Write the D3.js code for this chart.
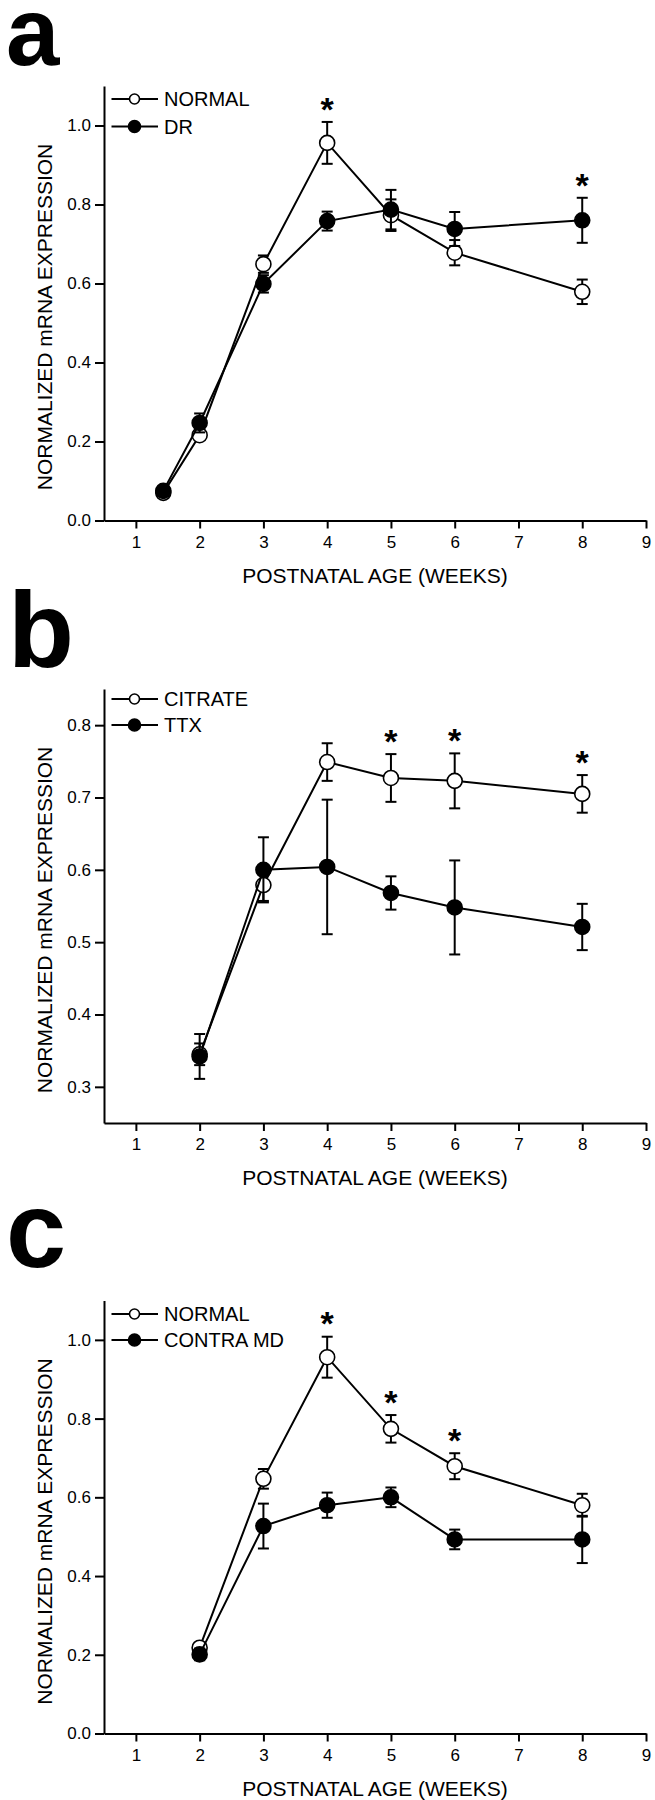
<!DOCTYPE html>
<html>
<head>
<meta charset="utf-8">
<script src="https://cdn.jsdelivr.net/npm/d3@7"></script>
<style>
  html, body { margin: 0; padding: 0; background: #fff; }
  svg { display: block; font-family: "Liberation Sans", Arial, Helvetica, sans-serif; }
</style>
</head>
<body>
<svg id="chart" width="655" height="1800"></svg>
<script>
// ---------- DATA ----------
const xTicks = [1, 2, 3, 4, 5, 6, 7, 8, 9];
const xTitle = "POSTNATAL AGE (WEEKS)";
const yTitle = "NORMALIZED mRNA EXPRESSION";

// Panel a
const weeksA = [1.43, 2, 3, 4, 5, 6, 8];
const normalA = [0.070, 0.216, 0.649, 0.956, 0.773, 0.678, 0.579];
const normalAErr = [0.010, 0.012, 0.022, 0.053, 0.040, 0.032, 0.031];
const drA = [0.075, 0.247, 0.599, 0.758, 0.787, 0.738, 0.760];
const drAErr = [0.010, 0.024, 0.022, 0.024, 0.050, 0.043, 0.057];
const sigA = [4, 8];
const yTicksA = [0.0, 0.2, 0.4, 0.6, 0.8, 1.0];
const legendA = ["NORMAL", "DR"];

// Panel b
const weeksB = [2, 3, 4, 5, 6, 8];
const citrateB = [0.345, 0.579, 0.749, 0.727, 0.723, 0.705];
const citrateBErr = [0.015, 0.022, 0.026, 0.033, 0.038, 0.026];
const ttxB = [0.342, 0.600, 0.604, 0.568, 0.548, 0.521];
const ttxBErr = [0.031, 0.045, 0.093, 0.023, 0.065, 0.032];
const sigB = [5, 6, 8];
const yTicksB = [0.3, 0.4, 0.5, 0.6, 0.7, 0.8];
const legendB = ["CITRATE", "TTX"];

// Panel c
const weeksC = [2, 3, 4, 5, 6, 8];
const normalC = [0.218, 0.647, 0.956, 0.774, 0.679, 0.580];
const normalCErr = [0.010, 0.025, 0.052, 0.035, 0.033, 0.029];
const contraC = [0.201, 0.527, 0.580, 0.600, 0.493, 0.493];
const contraCErr = [0.015, 0.057, 0.032, 0.025, 0.025, 0.060];
const sigC = [4, 5, 6];
const yTicksC = [0.0, 0.2, 0.4, 0.6, 0.8, 1.0];
const legendC = ["NORMAL", "CONTRA MD"];

// ---------- LAYOUT ----------
const panels = [
  { letter: "a", letterSize: 96, letterX: 6, letterY: 65,
    top: 86, bottom: 520.5, yDomain: [0, 1.1], yTicks: yTicksA,
    weeks: weeksA, open: normalA, openErr: normalAErr, filled: drA, filledErr: drAErr,
    sig: sigA, legend: legendA, legY: [99, 126.5] },
  { letter: "b", letterSize: 108, letterX: 8, letterY: 667,
    top: 689, bottom: 1123, yDomain: [0.25, 0.85], yTicks: yTicksB,
    weeks: weeksB, open: citrateB, openErr: citrateBErr, filled: ttxB, filledErr: ttxBErr,
    sig: sigB, legend: legendB, legY: [699, 725] },
  { letter: "c", letterSize: 108, letterX: 6, letterY: 1267,
    top: 1300.5, bottom: 1733.5, yDomain: [0, 1.1], yTicks: yTicksC,
    weeks: weeksC, open: normalC, openErr: normalCErr, filled: contraC, filledErr: contraCErr,
    sig: sigC, legend: legendC, legY: [1314, 1340] }
];

const svg = d3.select("#chart");
const x = d3.scaleLinear().domain([0.5, 9]).range([104, 646]);
const R = 7.5;

panels.forEach(p => {
  const g = svg.append("g");
  const y = d3.scaleLinear().domain(p.yDomain).range([p.bottom, p.top]);

  // panel letter
  g.append("text").attr("x", p.letterX).attr("y", p.letterY)
    .attr("font-size", p.letterSize).attr("font-weight", "bold")
    .attr("font-family", "'Liberation Sans', Arial, sans-serif")
    .text(p.letter);

  // axes
  const xAxis = d3.axisBottom(x).tickValues(xTicks).tickSize(8).tickSizeOuter(0).tickPadding(7)
    .tickFormat(d3.format("d"));
  const yAxis = d3.axisLeft(y).tickValues(p.yTicks).tickSize(9).tickSizeOuter(0).tickPadding(4)
    .tickFormat(d3.format(".1f"));

  const gx = g.append("g").attr("transform", `translate(0,${p.bottom})`).call(xAxis);
  const gy = g.append("g").attr("transform", `translate(${x.range()[0]},0)`).call(yAxis);
  [gx, gy].forEach(a => {
    a.selectAll("path.domain").attr("stroke", "#000").attr("stroke-width", 2);
    a.selectAll(".tick line").attr("stroke", "#000").attr("stroke-width", 2);
    a.selectAll(".tick text").attr("font-size", 17).attr("fill", "#000")
      .attr("font-family", "'Liberation Sans', Arial, sans-serif");
  });

  // axis titles
  g.append("text").attr("x", (x.range()[0] + x.range()[1]) / 2).attr("y", p.bottom + 62)
    .attr("text-anchor", "middle").attr("font-size", 21).text(xTitle);
  g.append("text")
    .attr("transform", `translate(52,${p.top + 231}) rotate(-90)`)
    .attr("text-anchor", "middle").attr("font-size", 21).text(yTitle);

  const line = d3.line().x(d => x(d.w)).y(d => y(d.v));
  const series = [
    { vals: p.open, errs: p.openErr, fill: "#fff" },
    { vals: p.filled, errs: p.filledErr, fill: "#000" }
  ];

  series.forEach(s => {
    const data = p.weeks.map((w, i) => ({ w, v: s.vals[i], e: s.errs[i] }));
    const sg = g.append("g");
    // error bars
    const eb = sg.selectAll("g.eb").data(data).enter().append("g");
    eb.append("line").attr("x1", d => x(d.w)).attr("x2", d => x(d.w))
      .attr("y1", d => y(d.v - d.e)).attr("y2", d => y(d.v + d.e))
      .attr("stroke", "#000").attr("stroke-width", 2);
    [1, -1].forEach(sgn => {
      eb.append("line").attr("x1", d => x(d.w) - 5.5).attr("x2", d => x(d.w) + 5.5)
        .attr("y1", d => y(d.v + sgn * d.e)).attr("y2", d => y(d.v + sgn * d.e))
        .attr("stroke", "#000").attr("stroke-width", 2);
    });
    // line
    sg.append("path").datum(data).attr("d", line)
      .attr("fill", "none").attr("stroke", "#000").attr("stroke-width", 2);
    // markers
    sg.selectAll("circle").data(data).enter().append("circle")
      .attr("cx", d => x(d.w)).attr("cy", d => y(d.v)).attr("r", R)
      .attr("fill", s.fill).attr("stroke", "#000").attr("stroke-width", 1.6);
  });

  // significance asterisks
  p.sig.forEach(w => {
    const i = p.weeks.indexOf(w);
    const topVal = Math.max(p.open[i] + p.openErr[i], p.filled[i] + p.filledErr[i]);
    const cy = y(topVal) - 21;
    g.append("text").attr("x", x(w)).attr("y", cy + 0.58 * 34)
      .attr("text-anchor", "middle").attr("font-size", 34).attr("font-weight", "bold")
      .text("*");
  });

  // legend
  const legX0 = 111.5, legX1 = 158, legC = 134.5, legT = 164;
  p.legend.forEach((lab, k) => {
    const ly = p.legY[k];
    g.append("line").attr("x1", legX0).attr("x2", legX1).attr("y1", ly).attr("y2", ly)
      .attr("stroke", "#000").attr("stroke-width", 2);
    g.append("circle").attr("cx", legC).attr("cy", ly).attr("r", k === 0 ? 5 : 6)
      .attr("fill", k === 0 ? "#fff" : "#000").attr("stroke", "#000").attr("stroke-width", 1.6);
    g.append("text").attr("x", legT).attr("y", ly).attr("dy", "0.36em")
      .attr("font-size", 20).text(lab);
  });
});
</script>
</body>
</html>
